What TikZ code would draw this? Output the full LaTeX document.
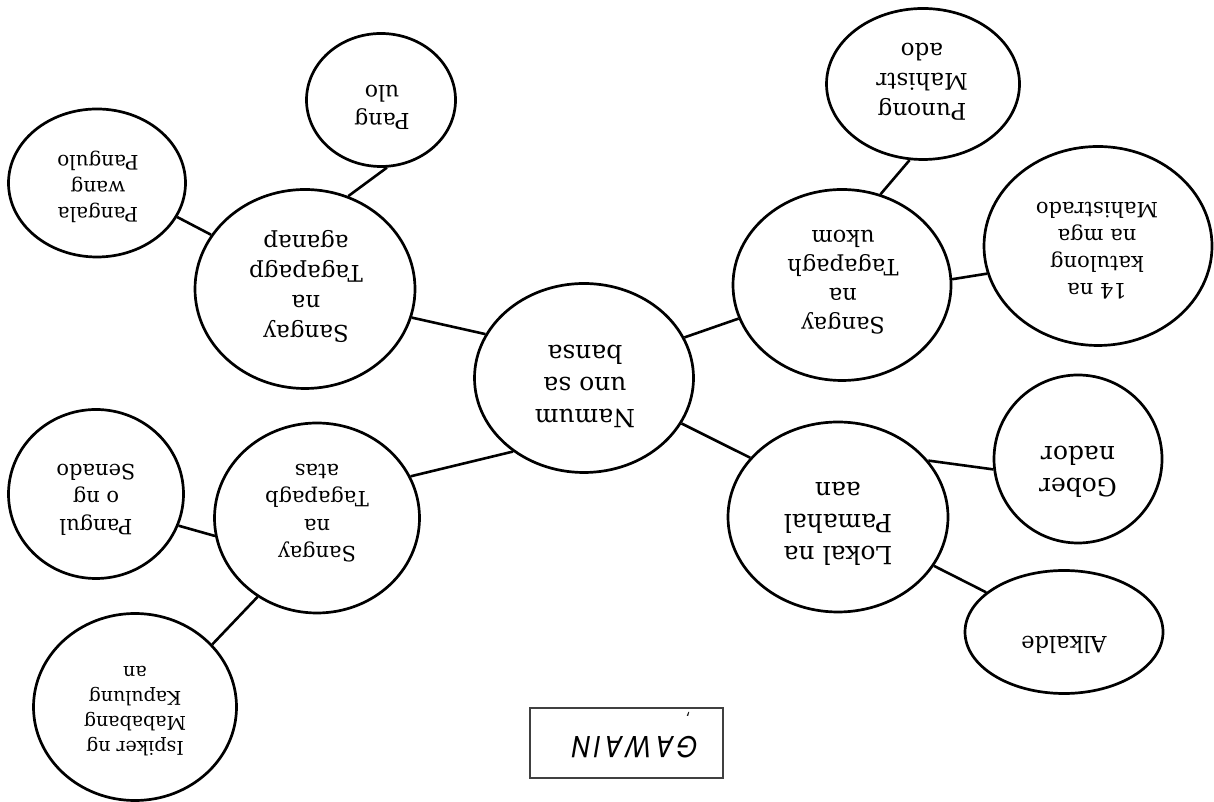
\documentclass[tikz,border=0pt]{standalone}
\usepackage{fontspec}
\setmainfont{DejaVu Serif}
\newfontfamily\gfont[Kerning=Off,LetterSpace=14]{Poppins}
\usetikzlibrary{shapes.geometric}
\begin{document}
\begin{tikzpicture}[x=1pt,y=1pt,
  bub/.style={draw=black, line width=2.7pt, ellipse, inner sep=0pt, fill=white},
  txt/.style={rotate=180, align=center, inner sep=0pt},
  fsz/.style n args={2}{font=\fontsize{#1}{#2}\selectfont},
  conn/.style={line width=2.6pt, line cap=butt}]
\useasboundingbox (0,0) rectangle (1214,802);
\fill[white] (0,0) rectangle (1214,802);

% ellipses
\node[bub, minimum width=219pt, minimum height=189pt] (c) at (584,424) {};
\node[bub, minimum width=218pt, minimum height=191pt] (tr) at (842,517) {};
\node[bub, minimum width=193pt, minimum height=151pt] (pun) at (923,718) {};
\node[bub, minimum width=228pt, minimum height=199pt] (kat) at (1098,556) {};
\node[bub, minimum width=220pt, minimum height=199pt] (tl) at (305,513) {};
\node[bub, minimum width=177pt, minimum height=148pt] (pgw) at (97,619) {};
\node[bub, minimum width=149pt, minimum height=133pt] (pu) at (381,702) {};
\node[bub, minimum width=205pt, minimum height=190pt] (bl) at (317,284) {};
\node[bub, minimum width=175pt, minimum height=169pt] (sen) at (96,308) {};
\node[bub, minimum width=203pt, minimum height=187pt] (isp) at (135,95) {};
\node[bub, minimum width=220pt, minimum height=190pt] (lok) at (838,285) {};
\node[bub, minimum width=168pt, minimum height=168pt] (gob) at (1078,343) {};
\node[bub, minimum width=198pt, minimum height=123pt] (alk) at (1064,170) {};

% texts
\node[txt, fsz={25}{32}] (c-t) at (585,416) {Namum\\uno sa\\bansa};
\node[txt, fsz={22.5}{29}] (tr-t) at (843,520) {Sangay\\na\\Tagapagh\\ukom};
\node[txt, fsz={23}{30}] (pun-t) at (922,720) {Punong\\Mahistr\\ado};
\node[txt, fsz={21}{27}] (kat-t) at (1097,551) {14 na\\katulong\\na mga\\Mahistrado};
\node[txt, fsz={23}{30}] (tl-t) at (306,516) {Sangay\\na\\Tagapagp\\aganap};
\node[txt, fsz={20}{26}] (pgw-t) at (98,615.5) {Pangala\\wang\\Pangulo};
\node[txt, fsz={22}{28.5}] (pu-t) at (382,694.5) {Pang\\ulo};
\node[txt, fsz={21}{27.5}] (bl-t) at (317,289) {Sangay\\na\\Tagapagb\\atas};
\node[txt, fsz={21}{27.5}] (sen-t) at (96,302.5) {Pangul\\o ng\\Senado};
\node[txt, fsz={19}{25}] (isp-t) at (135,91) {Ispiker ng\\Mababang\\Kapulung\\an};
\node[txt, fsz={25}{32}] (lok-t) at (838,278) {Lokal na\\Pamahal\\aan};
\node[txt, fsz={25}{32}] (gob-t) at (1078,330) {Gober\\nador};
\node[txt, fsz={22.5}{29}] (alk-t) at (1064,157) {Alkalde};

% connectors
\draw[conn] (c.156.6) -- (tl.345.5);
\draw[conn] (c.22.9) -- (tr.198.6);
\draw[conn] (c.335.2) -- (lok.146.7);
\draw[conn] (c.226) -- (bl.24);
\draw[conn] (tr.67.8) -- (pun.260);
\draw[conn] (tr.3) -- (kat.194);
\draw[conn] (tl.150.7) -- (pgw.337);
\draw[conn] (tl.65) -- (pu.275);
\draw[conn] (bl.190.8) -- (sen.339);
\draw[conn] (bl.233.6) -- (isp.39.8);
\draw[conn] (lok.32) -- (gob.187);
\draw[conn] (lok.333.2) -- (alk.153);

% title box
\node[draw=black!75, line width=1.5pt, minimum width=193pt, minimum height=70pt, inner sep=0pt] (gbox) at (626.5,59) {};
\node[yscale=1.15, xslant=0.2, rotate=180, inner sep=0pt, font=\gfont\fontsize{26.5}{31}\selectfont] (gw) at (635,54.5) {GAWAIN};
\node[rotate=180, inner sep=0pt, font=\fontsize{15}{17}\selectfont\gfont] (mk) at (688,88) {,};
\end{tikzpicture}
\end{document}
